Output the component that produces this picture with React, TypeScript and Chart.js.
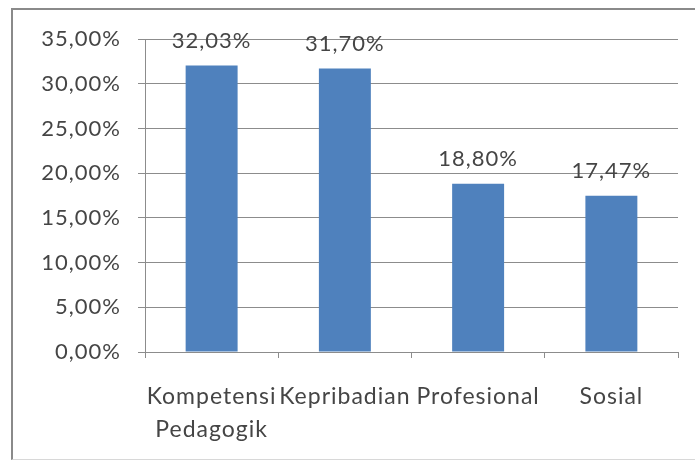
import React, { useEffect, useRef } from "react";
import { Chart, registerables } from "chart.js";

Chart.register(...registerables);

const categories: (string | string[])[] = [["Kompetensi", "Pedagogik"], "Kepribadian", "Profesional", "Sosial"];
const values: number[] = [32.03, 31.7, 18.8, 17.47];
const yMin = 0;
const yMax = 35;
const yStep = 5;

const fmt = (v: number) => v.toFixed(2).replace(".", ",") + "%";

const FONT = "Lato";
const TEXT = "#454545";
const GRID = "#8c8c8c";
const BAR = "#4F81BD";

const spacing = {
  id: "spacing",
  beforeDraw(chart: any) {
    (chart.ctx as any).letterSpacing = "1px";
  },
};

const dataLabels = {
  id: "dataLabels",
  afterDatasetsDraw(chart: any) {
    const ctx = chart.ctx;
    const meta = chart.getDatasetMeta(0);
    ctx.save();
    (ctx as any).letterSpacing = "1px";
    ctx.font = `22px ${FONT}`;
    ctx.fillStyle = TEXT;
    ctx.textAlign = "center";
    ctx.textBaseline = "alphabetic";
    meta.data.forEach((el: any, i: number) => {
      ctx.fillText(fmt(values[i]), el.x, el.y - 18);
    });
    ctx.restore();
  },
};

export default function App() {
  const ref = useRef<HTMLCanvasElement>(null);
  useEffect(() => {
    if (!ref.current) return;
    const chart = new Chart(ref.current, {
      type: "bar",
      data: {
        labels: categories,
        datasets: [
          {
            data: values,
            backgroundColor: BAR,
            borderWidth: 0,
            categoryPercentage: 1,
            barPercentage: 0.39,
          },
        ],
      },
      options: {
        responsive: false,
        animation: false,
        layout: { padding: { left: 0, top: 39, right: 17, bottom: 0 } },
        plugins: { legend: { display: false }, tooltip: { enabled: false } },
        scales: {
          x: {
            grid: {
              display: true,
              drawOnChartArea: false,
              drawTicks: true,
              tickLength: 6,
              color: GRID,
              offset: true,
            },
            border: { display: true, color: GRID, width: 1 },
            ticks: {
              color: TEXT,
              font: { family: FONT, size: 23, lineHeight: 1.43 },
              padding: 22,
              maxRotation: 0,
              autoSkip: false,
            },
            afterFit: (s: any) => {
              s.height = 114;
            },
          },
          y: {
            min: yMin,
            max: yMax,
            grid: { color: GRID, tickLength: 7, drawTicks: true },
            border: { display: true, color: GRID, width: 1 },
            ticks: {
              stepSize: yStep,
              color: TEXT,
              font: { family: FONT, size: 22 },
              padding: 17,
              callback: (v: any) => fmt(Number(v)),
            },
            afterFit: (s: any) => {
              s.width = 145;
            },
          },
        },
      },
      plugins: [spacing, dataLabels],
    });
    return () => chart.destroy();
  }, []);
  return (
    <div style={{ position: "fixed", left: 0, top: 0, width: 695, height: 466, background: "#fff" }}>
      <div
        style={{
          position: "absolute",
          left: 11,
          top: 8,
          width: 684,
          height: 452,
          boxSizing: "border-box",
          borderTop: "2px solid #8a8a8a",
          borderLeft: "2px solid #8a8a8a",
          borderBottom: "1px solid #d8d8d8",
        }}
      />
      <canvas ref={ref} width={695} height={466} style={{ position: "absolute", left: 0, top: 0, display: "block" }} />
    </div>
  );
}
